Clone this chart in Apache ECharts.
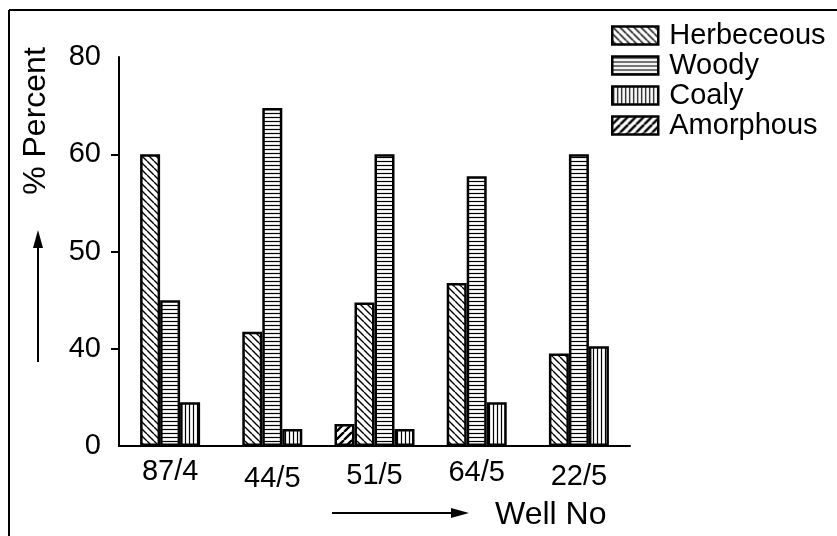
<!DOCTYPE html>
<html>
<head>
<meta charset="utf-8">
<script src="https://cdn.jsdelivr.net/npm/echarts@6/dist/echarts.min.js"></script>
<style>
html,body{margin:0;padding:0;background:#fff;}
#chart{width:837px;height:536px;}
</style>
</head>
<body>
<div id="chart"></div>
<script>
const categories = ['87/4', '44/5', '51/5', '64/5', '22/5'];
const herbeceous = [60, 23.5, 29.5, 33.5, 19];
const woody = [30, 69.5, 60, 55.5, 60];
const coaly = [9, 3.5, 3.5, 9, 20.5];
const amorphous = [null, null, 4.5, null, null];
const yTickValues = [0, 20, 40, 60, 80];
const yTickLabels = ['0', '40', '50', '60', '80'];
const legendNames = ['Herbeceous', 'Woody', 'Coaly', 'Amorphous'];
const xLabelDrop = [0, 7, 4, 1, 5];

function hatch(kind) {
  const s = (kind === 'h' || kind === 'v') ? 4 : (kind === 'fwd' ? 8 : 7);
  const c = document.createElement('canvas');
  c.width = s; c.height = s;
  const g = c.getContext('2d');
  g.fillStyle = '#fff';
  g.fillRect(0, 0, s, s);
  g.strokeStyle = '#000';
  g.beginPath();
  if (kind === 'h') {
    g.lineWidth = 1.2;
    g.moveTo(0, 1.5); g.lineTo(s, 1.5);
  } else if (kind === 'v') {
    g.lineWidth = 1.2;
    g.moveTo(1.5, 0); g.lineTo(1.5, s);
  } else if (kind === 'back') {
    g.lineWidth = 1.4;
    for (const k of [-s, 0, s]) { g.moveTo(k, 0); g.lineTo(k + s, s); }
  } else {
    g.lineWidth = 2.4;
    for (const k of [-s, 0, s]) { g.moveTo(k + s, 0); g.lineTo(k, s); }
  }
  g.stroke();
  return { image: c, repeat: 'repeat' };
}

const patterns = {
  Herbeceous: hatch('back'),
  Woody: hatch('h'),
  Coaly: hatch('v'),
  Amorphous: hatch('fwd')
};
const valuesByName = {
  Herbeceous: herbeceous,
  Woody: woody,
  Coaly: coaly,
  Amorphous: amorphous
};
const hasAmorph = amorphous.map(v => v != null);

function makeSeries(name, axisIdx, keep) {
  return {
    name: name,
    type: 'bar',
    xAxisIndex: axisIdx,
    yAxisIndex: 0,
    barWidth: 20,
    barGap: '0%',
    silent: true,
    itemStyle: { color: patterns[name], borderColor: '#000', borderWidth: 2.5 },
    data: valuesByName[name].map((v, i) => keep(i) ? v : null)
  };
}

const series = [];
['Herbeceous', 'Woody', 'Coaly'].forEach(n => series.push(makeSeries(n, 0, i => !hasAmorph[i])));
['Amorphous', 'Herbeceous', 'Woody', 'Coaly'].forEach(n => series.push(makeSeries(n, 1, i => hasAmorph[i])));

const font = '"Liberation Sans", Arial, sans-serif';
const chart = echarts.init(document.getElementById('chart'), null, { renderer: 'canvas' });
chart.setOption({
  animation: false,
  backgroundColor: '#fff',
  grid: { left: 119, right: 207, top: 57, bottom: 90 },
  legend: {
    data: legendNames,
    orient: 'vertical',
    left: 606,
    top: 16,
    icon: 'rect',
    itemWidth: 46,
    itemHeight: 18,
    itemGap: 1,
    selectedMode: false,
    itemStyle: { borderColor: '#000', borderWidth: 2.5 },
    textStyle: { fontFamily: font, fontSize: 29, color: '#000', lineHeight: 28, padding: [0, 0, 0, 6] }
  },
  xAxis: [
    {
      type: 'category',
      data: categories.map((c, i) => ({ value: c, textStyle: { padding: [xLabelDrop[i], 0, 0, 0] } })),
      axisLine: { lineStyle: { color: '#000', width: 2 } },
      axisTick: { alignWithLabel: true, length: 9, lineStyle: { color: '#000', width: 2 } },
      axisLabel: { fontFamily: font, fontSize: 29, color: '#000', margin: 11 }
    },
    { type: 'category', data: categories, show: false }
  ],
  yAxis: {
    type: 'value',
    min: 0,
    max: 80,
    interval: 20,
    splitLine: { show: false },
    axisLine: { show: true, lineStyle: { color: '#000', width: 2 } },
    axisTick: { show: true, length: 8, customValues: [20, 40, 60], lineStyle: { color: '#000', width: 2 } },
    axisLabel: {
      fontFamily: font, fontSize: 29, color: '#000', margin: 18,
      customValues: yTickValues,
      formatter: v => yTickLabels[yTickValues.indexOf(v)]
    }
  },
  graphic: [
    { type: 'line', shape: { x1: 9, y1: 10, x2: 837, y2: 10 }, style: { stroke: '#000', lineWidth: 2 } },
    { type: 'line', shape: { x1: 9, y1: 10, x2: 9, y2: 536 }, style: { stroke: '#000', lineWidth: 2 } },
    { type: 'text', x: 36, y: 121, rotation: Math.PI / 2,
      style: { text: '% Percent', font: '32px ' + font, fill: '#000', textAlign: 'center', textVerticalAlign: 'middle' } },
    { type: 'line', shape: { x1: 38, y1: 244, x2: 38, y2: 362 }, style: { stroke: '#000', lineWidth: 2 } },
    { type: 'polygon', shape: { points: [[38, 230], [33, 248], [43, 248]] }, style: { fill: '#000' } },
    { type: 'line', shape: { x1: 332, y1: 513, x2: 455, y2: 513 }, style: { stroke: '#000', lineWidth: 2 } },
    { type: 'polygon', shape: { points: [[469, 513], [451, 508], [451, 518]] }, style: { fill: '#000' } },
    { type: 'text', x: 495, y: 515,
      style: { text: 'Well No', font: '32px ' + font, fill: '#000', textAlign: 'left', textVerticalAlign: 'middle' } }
  ],
  series: series
});
</script>
</body>
</html>
